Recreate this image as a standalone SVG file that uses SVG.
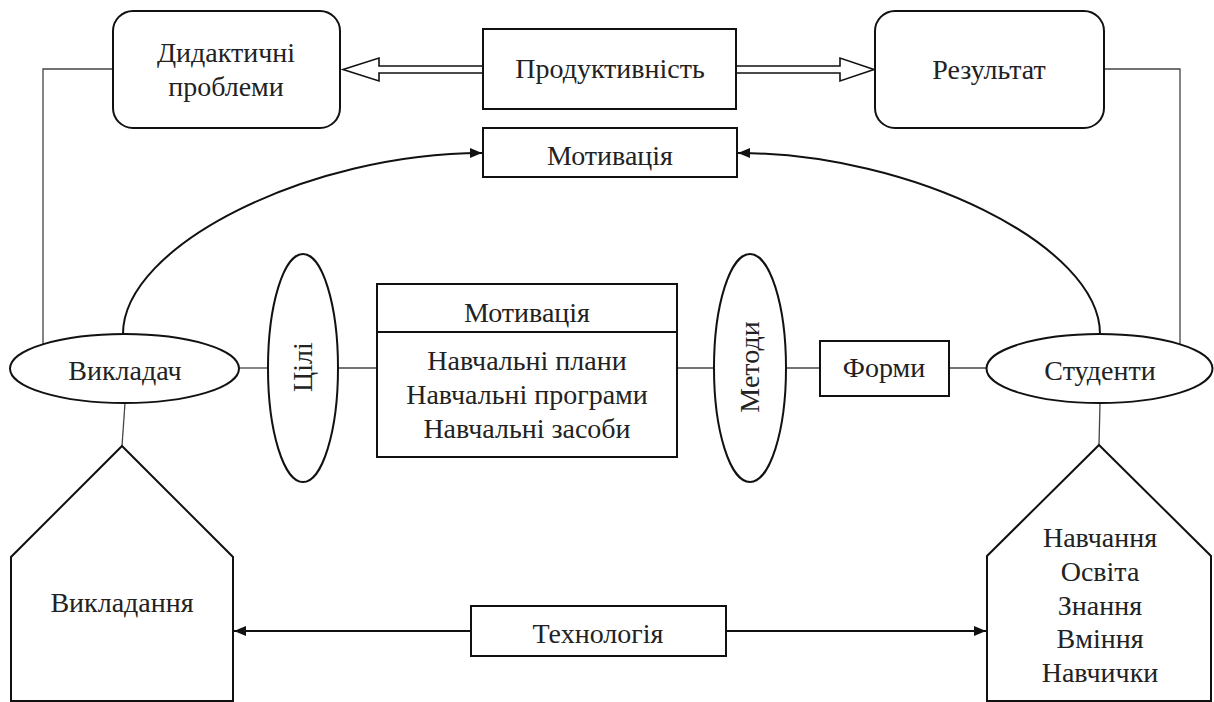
<svg xmlns="http://www.w3.org/2000/svg" width="1214" height="702" viewBox="0 0 1214 702" font-family="Liberation Serif, Times New Roman, DejaVu Serif, serif">
<style>
.shape{fill:#fff;stroke:#111;stroke-width:2}
.thin{fill:none;stroke:#444;stroke-width:1.3}
.curve{fill:none;stroke:#111;stroke-width:2}
.hollow{fill:#fff;stroke:#111;stroke-width:1.6}
.t{font-size:28px;fill:#222;text-anchor:middle}
</style>
<defs>
<marker id="ah" viewBox="0 0 12 10" refX="12" refY="5" markerWidth="12" markerHeight="10" markerUnits="userSpaceOnUse" orient="auto">
<path d="M0,0 L12,5 L0,10 Z" fill="#111"/>
</marker>
</defs>
<rect width="1214" height="702" fill="#fff"/>
<g id="connectors">
<polyline class="thin" points="113,69 43,69 43,344"/>
<polyline class="thin" points="1104,69 1180,69 1180,344"/>
<line class="thin" x1="239" y1="368" x2="268" y2="368"/>
<line class="thin" x1="338" y1="368" x2="377" y2="368"/>
<line class="thin" x1="677" y1="368" x2="714" y2="368"/>
<line class="thin" x1="786" y1="368" x2="820" y2="368"/>
<line class="thin" x1="949" y1="368" x2="986" y2="368"/>
<line class="thin" x1="125" y1="403" x2="122" y2="446"/>
<line class="thin" x1="1100" y1="403" x2="1099" y2="445"/>
<polygon class="hollow" points="483,66 379,66 379,58 343,69.5 379,81 379,73 483,73"/>
<polygon class="hollow" points="736,66 840,66 840,58 874,69.5 840,81 840,73 736,73"/>
<path class="curve" d="M123,334 C123,245 310,153 482,153" marker-end="url(#ah)"/>
<path class="curve" d="M1100,334 C1100,245 911,153 738,153" marker-end="url(#ah)"/>
<line class="curve" x1="471" y1="631" x2="234" y2="631" marker-end="url(#ah)"/>
<line class="curve" x1="726" y1="631" x2="986" y2="631" marker-end="url(#ah)"/>
</g>
<g id="didactic">
<rect class="shape" x="113" y="11" width="227" height="117" rx="20"/>
<text class="t" x="226" y="62">Дидактичні</text>
<text class="t" x="226" y="96">проблеми</text>
</g>
<g id="productivity">
<rect class="shape" x="483" y="29" width="253" height="80"/>
<text class="t" x="610" y="78">Продуктивність</text>
</g>
<g id="result">
<rect class="shape" x="875" y="11" width="229" height="117" rx="20"/>
<text class="t" x="989" y="79">Результат</text>
</g>
<g id="motivation-top">
<rect class="shape" x="483" y="128" width="254" height="49"/>
<text class="t" x="610" y="165">Мотивація</text>
</g>
<g id="teacher">
<ellipse class="shape" cx="124.5" cy="368.5" rx="114.5" ry="34.5"/>
<text class="t" x="125" y="380">Викладач</text>
</g>
<g id="goals">
<ellipse class="shape" cx="303" cy="368" rx="35" ry="114"/>
<text class="t" transform="translate(312,367) rotate(-90)" x="0" y="0">Цілі</text>
</g>
<g id="center-box">
<rect class="shape" x="377" y="284" width="300" height="173"/>
<line class="shape" x1="377" y1="332" x2="677" y2="332"/>
<text class="t" x="527" y="322">Мотивація</text>
<text class="t" x="527" y="370">Навчальні плани</text>
<text class="t" x="527" y="404">Навчальні програми</text>
<text class="t" x="527" y="438">Навчальні засоби</text>
</g>
<g id="methods">
<ellipse class="shape" cx="750" cy="368" rx="36" ry="114"/>
<text class="t" transform="translate(759,367) rotate(-90)" x="0" y="0">Методи</text>
</g>
<g id="forms">
<rect class="shape" x="820" y="341" width="129" height="55"/>
<text class="t" x="884" y="377">Форми</text>
</g>
<g id="students">
<ellipse class="shape" cx="1099.5" cy="368.5" rx="113" ry="34.5"/>
<text class="t" x="1100" y="380">Студенти</text>
</g>
<g id="teaching">
<polygon class="shape" points="122,446 233,557 233,701 11,701 11,557"/>
<text class="t" x="122" y="612">Викладання</text>
</g>
<g id="technology">
<rect class="shape" x="471" y="606" width="255" height="50"/>
<text class="t" x="598" y="643">Технологія</text>
</g>
<g id="learning">
<polygon class="shape" points="1099,445 1211,556 1211,701 987,701 987,556"/>
<text class="t" x="1100" y="547">Навчання</text>
<text class="t" x="1100" y="581">Освіта</text>
<text class="t" x="1100" y="615">Знання</text>
<text class="t" x="1100" y="648">Вміння</text>
<text class="t" x="1100" y="682">Навчички</text>
</g>
</svg>
